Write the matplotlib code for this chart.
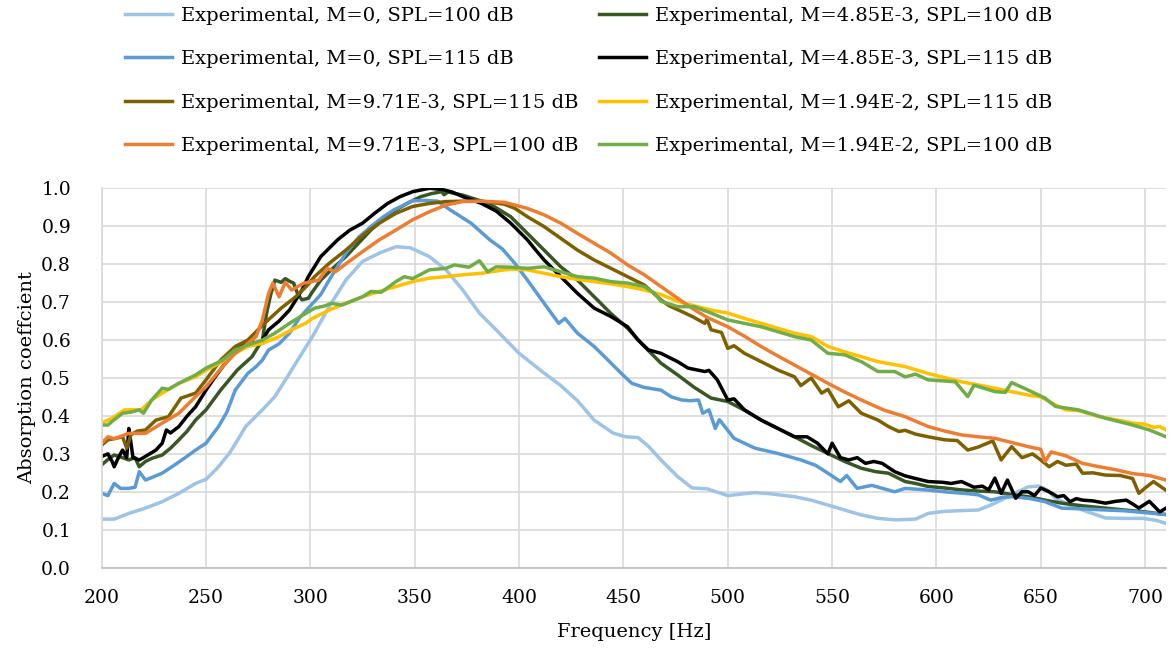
import numpy as np
import matplotlib
matplotlib.use("Agg")
import matplotlib.pyplot as plt

plt.rcParams['font.family'] = ['DejaVu Serif']

# M=0, SPL=100 dB
f_m0_100 = [200, 206, 213, 221, 229, 237, 245, 250, 255, 261, 265, 269, 277, 283, 290, 298, 301, 309, 317, 325,
            333, 341, 348, 357, 365, 373, 381, 389, 400, 412, 420, 428, 436, 445, 451, 457, 462, 468, 476, 483,
            490, 500, 513, 520, 532, 540, 548, 556, 564, 572, 580, 590, 596, 603, 610, 620, 626, 631, 637, 644,
            649, 653, 657, 664, 672, 681, 690, 699, 705, 710]
a_m0_100 = [0.128, 0.128, 0.143, 0.157, 0.174, 0.196, 0.222, 0.233, 0.26, 0.30, 0.335, 0.372, 0.416, 0.451, 0.512,
            0.583, 0.609, 0.688, 0.758, 0.807, 0.829, 0.846, 0.843, 0.82, 0.785, 0.732, 0.671, 0.627, 0.565, 0.513,
            0.48, 0.44, 0.389, 0.355, 0.345, 0.343, 0.32, 0.284, 0.24, 0.21, 0.208, 0.19, 0.198, 0.195, 0.187,
            0.178, 0.165, 0.152, 0.139, 0.13, 0.126, 0.128, 0.143, 0.148, 0.15, 0.152, 0.165, 0.178, 0.195, 0.213,
            0.215, 0.205, 0.183, 0.165, 0.148, 0.131, 0.13, 0.13, 0.125, 0.117]

# M=0, SPL=115 dB
f_m0_115 = [200, 203, 206, 209, 213, 216, 218, 221, 225, 229, 235, 240, 245, 250, 256, 260, 264, 270, 274, 277,
            280, 285, 290, 295, 300, 305, 309, 317, 323, 329, 335, 340, 349, 355, 361, 367, 377, 386, 392, 398,
            404, 412, 419, 422, 428, 436, 443, 449, 454, 460, 468, 473, 478, 482, 486, 488, 491, 494, 496, 503,
            513, 524, 535, 542, 548, 554, 557, 562, 569, 580, 585, 595, 604, 615, 620, 626, 632, 637, 645, 652,
            660, 670, 681, 690, 700, 710]
a_m0_115 = [0.196, 0.19, 0.222, 0.209, 0.209, 0.212, 0.253, 0.231, 0.24, 0.249, 0.271, 0.29, 0.31, 0.328, 0.372,
            0.41, 0.468, 0.512, 0.53, 0.547, 0.574, 0.59, 0.618, 0.66, 0.69, 0.72, 0.758, 0.829, 0.87, 0.899,
            0.925, 0.943, 0.967, 0.968, 0.966, 0.943, 0.908, 0.864, 0.84, 0.802, 0.758, 0.697, 0.644, 0.657, 0.618,
            0.583, 0.545, 0.512, 0.486, 0.475, 0.468, 0.45, 0.442, 0.44, 0.442, 0.407, 0.416, 0.367, 0.39, 0.341,
            0.315, 0.301, 0.284, 0.27, 0.249, 0.227, 0.243, 0.209, 0.217, 0.2, 0.209, 0.205, 0.2, 0.195, 0.192,
            0.178, 0.186, 0.187, 0.182, 0.174, 0.157, 0.155, 0.152, 0.15, 0.145, 0.14]

# M=4.85E-3, SPL=100 dB
f_m1_100 = [200, 203, 206, 210, 213, 216, 218, 221, 224, 229, 233, 237, 241, 245, 250, 257, 265, 272, 277, 279,
            281, 283, 286, 288, 290, 292, 294, 296, 299, 301, 305, 310, 317, 323, 329, 335, 341, 347, 353, 358,
            363, 364, 366, 373, 382, 388, 396, 404, 412, 420, 428, 436, 444, 452, 460, 468, 476, 484, 492, 500,
            508, 516, 524, 532, 540, 548, 556, 564, 571, 577, 585, 590, 596, 604, 612, 620, 628, 636, 644, 652,
            660, 670, 681, 690, 700, 710]
a_m1_100 = [0.271, 0.285, 0.297, 0.29, 0.284, 0.29, 0.266, 0.28, 0.288, 0.297, 0.315, 0.337, 0.36, 0.389, 0.416,
            0.468, 0.521, 0.556, 0.6, 0.67, 0.72, 0.758, 0.752, 0.762, 0.755, 0.75, 0.72, 0.706, 0.71, 0.727,
            0.758, 0.785, 0.82, 0.855, 0.89, 0.918, 0.943, 0.962, 0.978, 0.986, 0.991, 0.983, 0.99, 0.982, 0.966,
            0.952, 0.925, 0.881, 0.837, 0.793, 0.758, 0.714, 0.67, 0.631, 0.583, 0.539, 0.508, 0.475, 0.447, 0.438,
            0.415, 0.389, 0.367, 0.345, 0.322, 0.301, 0.28, 0.262, 0.253, 0.249, 0.227, 0.222, 0.214, 0.21, 0.205,
            0.202, 0.2, 0.193, 0.187, 0.178, 0.17, 0.163, 0.157, 0.152, 0.147, 0.14]

# M=4.85E-3, SPL=115 dB
f_m1_115 = [200, 203, 205, 206, 208, 210, 212, 213, 214, 215, 218, 220, 223, 226, 229, 231, 233, 237, 241, 245,
            250, 254, 258, 264, 268, 272, 275, 277, 280, 285, 290, 296, 299, 305, 313, 319, 325, 331, 337, 343,
            349, 357, 363, 368, 373, 382, 389, 396, 404, 408, 412, 420, 428, 436, 444, 452, 457, 462, 468, 476,
            481, 489, 491, 495, 500, 503, 508, 516, 524, 532, 538, 543, 548, 550, 554, 558, 562, 566, 570, 574,
            580, 585, 590, 596, 603, 607, 612, 618, 622, 625, 628, 631, 634, 638, 641, 644, 647, 650, 654, 658,
            661, 664, 667, 670, 675, 681, 686, 691, 694, 697, 702, 707, 710]
a_m1_115 = [0.293, 0.3, 0.28, 0.266, 0.29, 0.31, 0.29, 0.367, 0.33, 0.29, 0.284, 0.29, 0.3, 0.31, 0.328, 0.363,
            0.355, 0.372, 0.4, 0.424, 0.468, 0.5, 0.53, 0.574, 0.592, 0.596, 0.588, 0.6, 0.627, 0.65, 0.679, 0.732,
            0.767, 0.82, 0.864, 0.89, 0.908, 0.935, 0.96, 0.978, 0.991, 1.0, 0.997, 0.99, 0.978, 0.96, 0.94, 0.908,
            0.864, 0.837, 0.811, 0.767, 0.723, 0.684, 0.662, 0.635, 0.6, 0.574, 0.565, 0.543, 0.526, 0.517, 0.52,
            0.495, 0.442, 0.445, 0.416, 0.389, 0.367, 0.345, 0.345, 0.328, 0.3, 0.328, 0.29, 0.284, 0.29, 0.275,
            0.28, 0.275, 0.253, 0.242, 0.235, 0.227, 0.225, 0.222, 0.227, 0.212, 0.215, 0.205, 0.236, 0.196, 0.231,
            0.183, 0.2, 0.2, 0.19, 0.21, 0.2, 0.187, 0.19, 0.174, 0.182, 0.178, 0.176, 0.17, 0.175, 0.178, 0.168,
            0.157, 0.175, 0.147, 0.157]

# M=9.71E-3, SPL=115 dB
f_m2_115 = [200, 203, 206, 210, 212, 214, 217, 221, 226, 232, 238, 245, 250, 257, 264, 270, 278, 286, 293, 298,
            302, 309, 317, 325, 333, 341, 349, 357, 365, 373, 382, 393, 398, 404, 412, 420, 428, 436, 444, 452,
            460, 468, 472, 478, 483, 486, 489, 490, 492, 497, 500, 503, 508, 516, 524, 532, 535, 540, 545, 548,
            553, 558, 564, 572, 577, 582, 585, 590, 596, 604, 610, 615, 620, 627, 631, 636, 641, 646, 650, 654,
            658, 662, 667, 670, 675, 681, 688, 694, 697, 700, 704, 710]
a_m2_115 = [0.323, 0.337, 0.34, 0.345, 0.315, 0.35, 0.36, 0.363, 0.389, 0.398, 0.447, 0.46, 0.495, 0.547, 0.583,
            0.6, 0.644, 0.684, 0.714, 0.741, 0.767, 0.802, 0.837, 0.876, 0.908, 0.934, 0.952, 0.96, 0.965, 0.966,
            0.966, 0.958, 0.947, 0.925, 0.899, 0.868, 0.837, 0.811, 0.789, 0.767, 0.745, 0.706, 0.69, 0.675, 0.662,
            0.653, 0.644, 0.655, 0.627, 0.62, 0.578, 0.585, 0.565, 0.543, 0.521, 0.503, 0.48, 0.5, 0.46, 0.47,
            0.424, 0.44, 0.407, 0.389, 0.372, 0.359, 0.362, 0.352, 0.345, 0.337, 0.335, 0.31, 0.318, 0.334, 0.284,
            0.319, 0.29, 0.3, 0.284, 0.266, 0.28, 0.27, 0.273, 0.249, 0.25, 0.244, 0.243, 0.235, 0.196, 0.21,
            0.227, 0.204]

# M=1.94E-2, SPL=115 dB
f_m3_115 = [200, 205, 211, 219, 224, 229, 237, 245, 250, 258, 264, 270, 277, 285, 291, 298, 301, 309, 317, 325,
            333, 341, 349, 357, 365, 373, 382, 393, 396, 404, 412, 420, 428, 436, 444, 452, 460, 468, 476, 484,
            492, 500, 508, 516, 524, 532, 540, 548, 556, 564, 572, 585, 596, 612, 628, 644, 650, 657, 662, 668,
            678, 686, 694, 700, 704, 707, 710]
a_m3_115 = [0.381, 0.394, 0.416, 0.416, 0.442, 0.46, 0.486, 0.503, 0.521, 0.543, 0.565, 0.583, 0.591, 0.609, 0.627,
            0.645, 0.657, 0.679, 0.697, 0.714, 0.728, 0.741, 0.754, 0.763, 0.767, 0.772, 0.776, 0.785, 0.787, 0.785,
            0.776, 0.767, 0.76, 0.754, 0.748, 0.741, 0.732, 0.72, 0.702, 0.69, 0.679, 0.671, 0.657, 0.644, 0.631,
            0.618, 0.609, 0.583, 0.569, 0.556, 0.543, 0.53, 0.512, 0.49, 0.473, 0.455, 0.45, 0.429, 0.416, 0.414,
            0.398, 0.39, 0.381, 0.378, 0.37, 0.372, 0.363]

# M=9.71E-3, SPL=100 dB
f_m2_100 = [200, 203, 206, 213, 221, 229, 237, 245, 250, 258, 264, 270, 274, 277, 280, 282, 285, 288, 291, 294,
            297, 304, 308, 312, 318, 325, 333, 341, 349, 357, 365, 373, 382, 393, 404, 412, 420, 428, 436, 444,
            452, 460, 468, 476, 484, 490, 500, 508, 516, 524, 532, 540, 548, 556, 564, 575, 585, 596, 604, 612,
            620, 628, 636, 644, 650, 652, 655, 662, 670, 678, 686, 694, 702, 710]
a_m2_100 = [0.328, 0.345, 0.34, 0.354, 0.354, 0.381, 0.407, 0.451, 0.477, 0.53, 0.565, 0.591, 0.609, 0.653, 0.723,
            0.75, 0.714, 0.752, 0.732, 0.741, 0.75, 0.758, 0.789, 0.78, 0.805, 0.833, 0.864, 0.89, 0.917, 0.938,
            0.956, 0.965, 0.966, 0.963, 0.947, 0.93, 0.908, 0.881, 0.855, 0.829, 0.798, 0.772, 0.741, 0.71, 0.68,
            0.66, 0.635, 0.61, 0.583, 0.558, 0.534, 0.51, 0.486, 0.463, 0.442, 0.415, 0.398, 0.372, 0.36, 0.35,
            0.345, 0.341, 0.33, 0.319, 0.312, 0.28, 0.305, 0.295, 0.275, 0.266, 0.258, 0.248, 0.243, 0.231]

# M=1.94E-2, SPL=100 dB
f_m3_100 = [200, 203, 206, 210, 214, 218, 220, 224, 229, 232, 237, 245, 250, 258, 264, 270, 277, 283, 290, 298,
            302, 307, 310, 315, 325, 329, 334, 341, 345, 349, 357, 365, 369, 376, 381, 385, 389, 396, 404, 412,
            420, 428, 436, 444, 452, 460, 465, 468, 476, 484, 492, 500, 508, 516, 524, 532, 540, 548, 556, 564,
            572, 580, 585, 590, 596, 604, 609, 615, 618, 628, 633, 636, 644, 652, 657, 668, 681, 694, 702, 710]
a_m3_100 = [0.376, 0.376, 0.39, 0.407, 0.41, 0.416, 0.407, 0.442, 0.473, 0.47, 0.486, 0.508, 0.526, 0.547, 0.574,
            0.587, 0.6, 0.618, 0.644, 0.671, 0.684, 0.69, 0.697, 0.692, 0.714, 0.728, 0.726, 0.754, 0.767, 0.762,
            0.785, 0.789, 0.798, 0.792, 0.809, 0.78, 0.793, 0.792, 0.789, 0.793, 0.78, 0.767, 0.763, 0.754, 0.75,
            0.741, 0.723, 0.702, 0.688, 0.688, 0.671, 0.653, 0.644, 0.635, 0.622, 0.609, 0.6, 0.565, 0.561, 0.543,
            0.517, 0.517, 0.503, 0.51, 0.495, 0.492, 0.49, 0.451, 0.481, 0.464, 0.462, 0.488, 0.468, 0.447, 0.425,
            0.416, 0.394, 0.376, 0.363, 0.345]

# series in drawing order (later ones on top)
series = [
    (f_m0_100, a_m0_100, 'Experimental, M=0, SPL=100 dB', '#9DC3E6'),
    (f_m1_100, a_m1_100, 'Experimental, M=4.85E-3, SPL=100 dB', '#385723'),
    (f_m0_115, a_m0_115, 'Experimental, M=0, SPL=115 dB', '#5B9BD5'),
    (f_m1_115, a_m1_115, 'Experimental, M=4.85E-3, SPL=115 dB', '#000000'),
    (f_m2_115, a_m2_115, 'Experimental, M=9.71E-3, SPL=115 dB', '#7F6000'),
    (f_m3_115, a_m3_115, 'Experimental, M=1.94E-2, SPL=115 dB', '#FFC000'),
    (f_m2_100, a_m2_100, 'Experimental, M=9.71E-3, SPL=100 dB', '#ED7D31'),
    (f_m3_100, a_m3_100, 'Experimental, M=1.94E-2, SPL=100 dB', '#70AD47'),
]

fig = plt.figure(figsize=(11.74, 6.49), dpi=100)
ax = fig.add_axes([0.0866, 0.1253, 0.9066, 0.5846])

handles = []
for f, a, lab, col in series:
    h, = ax.plot(f, a, color=col, lw=2.5, label=lab, solid_joinstyle='round')
    handles.append(h)

ax.set_xlim(200, 710)
ax.set_ylim(0, 1)
ax.set_xticks(np.arange(200, 701, 50))
ax.set_yticks(np.arange(0, 1.01, 0.1))
ax.set_yticklabels(['%.1f' % v for v in np.arange(0, 1.01, 0.1)])
ax.grid(True, color='#D9D9D9', lw=1.2)
ax.set_axisbelow(True)
for s in ['top', 'right']:
    ax.spines[s].set_visible(False)
ax.spines['left'].set_color('#D9D9D9')
ax.spines['left'].set_linewidth(1.2)
ax.spines['bottom'].set_color('#BFBFBF')
ax.spines['bottom'].set_linewidth(1.2)
ax.tick_params(axis='both', length=0, labelsize=13.5, colors='black')
ax.tick_params(axis='y', pad=22)
ax.tick_params(axis='x', pad=15)
ax.set_xlabel('Frequency [Hz]', fontsize=14, labelpad=12)
ax.set_ylabel('Absorption coeffcient', fontsize=14, labelpad=4)

# two legend columns, filled row by row like the original
left = [handles[i] for i in (0, 2, 4, 6)]
right = [handles[i] for i in (1, 3, 5, 7)]
for hs, x0 in ((left, 125 / 1174), (right, 599 / 1174)):
    fig.legend(handles=hs, loc='upper left', bbox_to_anchor=(x0, 1 - 7 / 649),
               frameon=False, fontsize=14, handlelength=2.4, handletextpad=0.5,
               labelspacing=1.3, borderpad=0, borderaxespad=0)

fig.savefig('out.png', dpi=100)
